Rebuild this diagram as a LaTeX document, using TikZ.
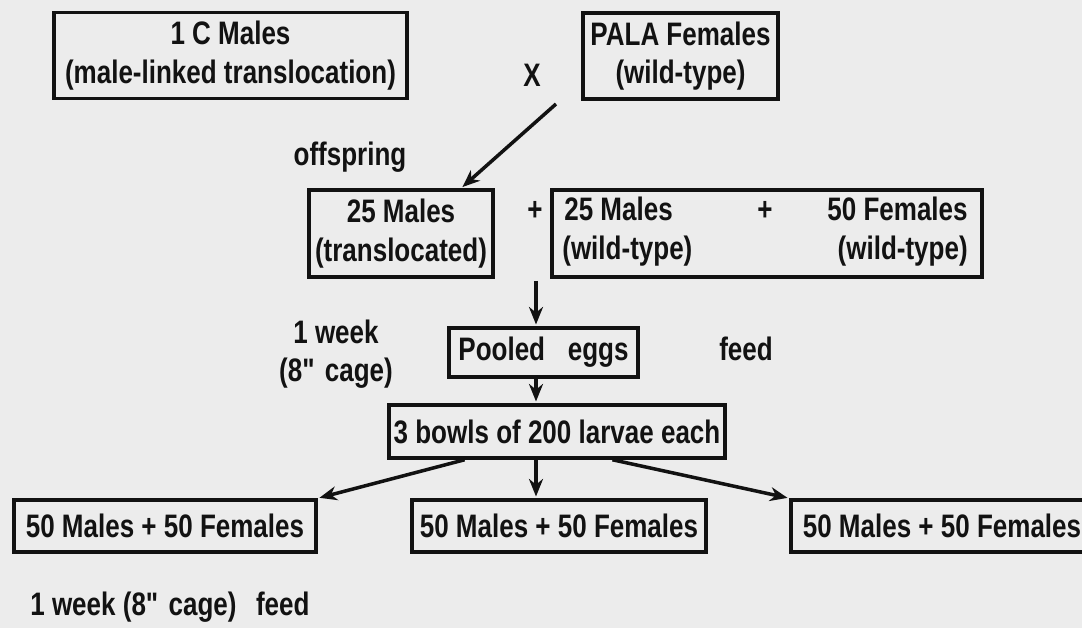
\documentclass[tikz,border=0pt]{standalone}
\usepackage{fontspec}
\setmainfont[FakeStretch=0.8]{Liberation Sans}
\usepackage{xcolor}
\definecolor{paper}{RGB}{236,236,236}
\definecolor{ink}{RGB}{18,18,18}
\usetikzlibrary{arrows.meta,positioning}

\begin{document}
\begin{tikzpicture}[x=0.02cm,y=-0.02cm,
  every node/.style={font=\fontsize{18.5}{22}\selectfont\bfseries,text=ink},
  box/.style={draw=ink,line width=2pt,inner sep=0pt,align=center},
  lbl/.style={inner sep=0pt,text height=13pt,text depth=4pt},
  arr/.style={draw=ink,line width=2pt,shorten >=1pt,-{Stealth[length=10pt,width=8pt]}}]

  %% Page
  \fill[paper] (0,0) rectangle (1082,628);
  \useasboundingbox (0,0) rectangle (1082,628);

  %% Parents
  \node[box,minimum width=7.06cm,minimum height=1.72cm] (c1Males) at (230.5,55.5)
        {1 C Males\\(male-linked translocation)};
  \node[lbl] (crossX) at (532,79) {X};
  \node[box,minimum width=3.9cm,minimum height=1.72cm] (palaFemales) at (680.5,56)
        {PALA Females\\(wild-type)};
  \coordinate (crossTail) at (556,104);
  \node[lbl] (offspring) at (350,158) {offspring};

  %% Offspring and wild-type cage
  \node[box,minimum width=3.68cm,minimum height=1.74cm] (f1Trans) at (401,233.5)
        {25 Males\\(translocated)};
  \node[lbl] (plusA) at (535,213) {+};
  \node[box,minimum width=8.6cm,minimum height=1.74cm] (f1Wild) at (767,233.5) {};
  \node[lbl,anchor=west] (wtMales) at (564,213) {25 Males};
  \node[lbl,anchor=west] (wtMalesType) at (562,252) {(wild-type)};
  \node[lbl] (plusB) at (765,213) {+};
  \node[lbl,anchor=east] (wtFemales) at (968,213) {50 Females};
  \node[lbl,anchor=east] (wtFemalesType) at (968,252) {(wild-type)};
  \coordinate (gapTop) at (536,281);

  %% Eggs and larvae
  \node[align=center,inner sep=0pt] (weekCage) at (336,354) {1 week\\(8\textquotedbl{} cage)};
  \node[box,minimum width=3.78cm,minimum height=0.98cm] (pooledEggs) at (543.5,352.5)
        {Pooled\hspace{0.7em}eggs};
  \node[lbl] (feedTop) at (746,353) {feed};
  \node[box,minimum width=6.72cm,minimum height=1.06cm] (larvaeBowls) at (557,431.5)
        {3 bowls of 200 larvae each};

  %% Three bowls
  \node[box,minimum width=6.04cm,minimum height=1.04cm] (bowlLeft) at (165,526)
        {50 Males + 50 Females};
  \node[box,minimum width=5.88cm,minimum height=1.04cm] (bowlMid) at (559,526)
        {50 Males + 50 Females};
  \node[box,minimum width=6.04cm,minimum height=1.04cm] (bowlRight) at (942,526)
        {50 Males + 50 Females};
  \node[lbl,anchor=west] (weekBottom) at (30,608) {1 week (8\textquotedbl{} cage)\hspace{0.6em}feed};

  %% Arrows
  \draw[arr] (crossTail) -- (f1Trans.37);
  \draw[arr] (gapTop) -- (gapTop |- pooledEggs.north);
  \draw[arr] (pooledEggs.south -| gapTop) -- (larvaeBowls.north -| gapTop);
  \draw[arr] (larvaeBowls.197) -- (bowlLeft.north east);
  \draw[arr] (larvaeBowls.south -| gapTop) -- (bowlMid.north -| gapTop);
  \draw[arr] (larvaeBowls.333) -- (bowlRight.north west);
\end{tikzpicture}
\end{document}
